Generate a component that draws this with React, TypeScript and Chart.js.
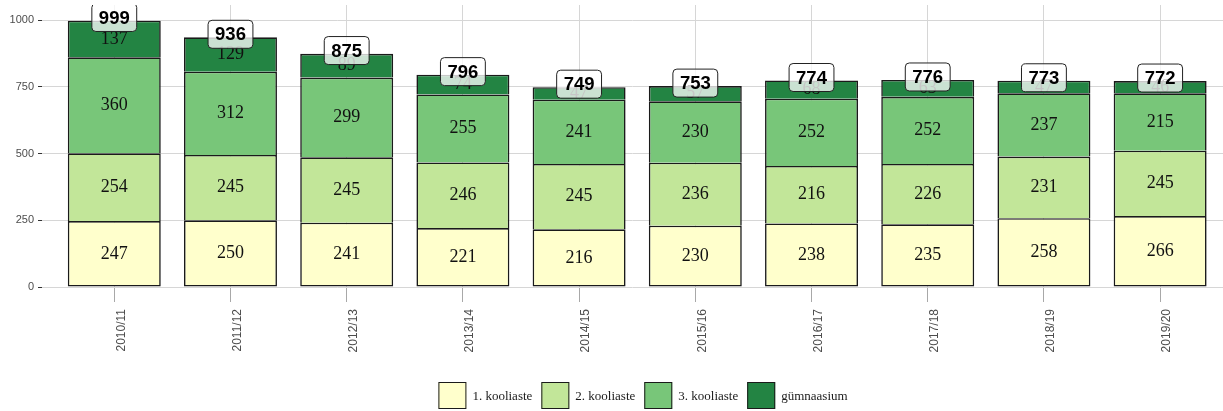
import React, { useEffect, useRef } from "react";
import { Chart, registerables } from "chart.js";

Chart.register(...registerables);

const categories = ["2010/11", "2011/12", "2012/13", "2013/14", "2014/15", "2015/16", "2016/17", "2017/18", "2018/19", "2019/20"];
const kooliaste1 = [247, 250, 241, 221, 216, 230, 238, 235, 258, 266];
const kooliaste2 = [254, 245, 245, 246, 245, 236, 216, 226, 231, 245];
const kooliaste3 = [360, 312, 299, 255, 241, 230, 252, 252, 237, 215];
const gymnaasium = [137, 129, 89, 74, 47, 57, 68, 63, 47, 46];
const totals = [999, 936, 875, 796, 749, 753, 774, 776, 773, 772];
const yTicks = [0, 250, 500, 750, 1000];
const seriesNames = ["1. kooliaste", "2. kooliaste", "3. kooliaste", "gümnaasium"];
const seriesColors = ["#ffffcc", "#c2e699", "#78c679", "#238443"];

const SERIF = "'Liberation Serif', 'DejaVu Serif', serif";
const SANS = "'Liberation Sans', Arial, sans-serif";

const labelsPlugin = {
  id: "segmentAndTotalLabels",
  afterDatasetsDraw(chart: any) {
    const ctx = chart.ctx;
    const area = chart.chartArea;
    ctx.save();
    ctx.fillStyle = "#111";
    ctx.font = `18px ${SERIF}`;
    ctx.textAlign = "center";
    ctx.textBaseline = "middle";
    chart.data.datasets.forEach((ds: any, di: number) => {
      const meta = chart.getDatasetMeta(di);
      meta.data.forEach((el: any, i: number) => {
        const y = (el.y + el.base) / 2;
        ctx.fillText(String(ds.data[i]), el.x, y);
      });
    });
    // totals
    ctx.beginPath();
    ctx.rect(area.left, area.top, area.right - area.left, area.bottom - area.top);
    ctx.clip();
    const yScale = chart.scales.y;
    const xScale = chart.scales.x;
    ctx.font = `bold 18.5px ${SANS}`;
    totals.forEach((t, i) => {
      const cx = xScale.getPixelForValue(i + 1);
      const cy = yScale.getPixelForValue(t) - 3;
      const w = ctx.measureText(String(t)).width + 14;
      const h = 28;
      ctx.beginPath();
      ctx.roundRect(cx - w / 2, cy - h / 2, w, h, 4);
      ctx.fillStyle = "rgba(255,255,255,0.76)";
      ctx.fill();
      ctx.lineWidth = 1;
      ctx.strokeStyle = "#222";
      ctx.stroke();
      ctx.fillStyle = "#000";
      ctx.fillText(String(t), cx, cy + 1);
    });
    ctx.restore();
  },
};

const legendPlugin = {
  id: "customLegend",
  afterDraw(chart: any) {
    const ctx = chart.ctx;
    ctx.save();
    ctx.font = `13px ${SERIF}`;
    ctx.textBaseline = "middle";
    ctx.textAlign = "left";
    const boxW = 28;
    const boxH = 27;
    const gap = 6;
    const spacing = 9;
    const items = chart.data.datasets.map((ds: any) => ({
      text: ds.label,
      color: ds.backgroundColor,
      w: boxW + gap + ctx.measureText(ds.label).width,
    }));
    const total = items.reduce((s: number, it: any) => s + it.w, 0) + spacing * (items.length - 1);
    const center = chart.scales.x.getPixelForValue(5.55);
    let x = center - total / 2;
    const top = 382;
    items.forEach((it: any) => {
      ctx.fillStyle = it.color;
      ctx.fillRect(x, top, boxW, boxH);
      ctx.lineWidth = 1;
      ctx.strokeStyle = "#1a1a1a";
      ctx.strokeRect(x + 0.5, top + 0.5, boxW - 1, boxH - 1);
      ctx.fillStyle = "#1a1a1a";
      ctx.fillText(it.text, x + boxW + gap, top + boxH / 2 + 1);
      x += it.w + spacing;
    });
    ctx.restore();
  },
};

export default function App() {
  const canvasRef = useRef<HTMLCanvasElement | null>(null);

  useEffect(() => {
    if (!canvasRef.current) return;
    const seriesValues = [kooliaste1, kooliaste2, kooliaste3, gymnaasium];
    const chart = new Chart(canvasRef.current, {
      type: "bar",
      data: {
        labels: categories.map((_, i) => i + 1),
        datasets: seriesValues.map((vals, si) => ({
          label: seriesNames[si],
          data: vals,
          backgroundColor: seriesColors[si],
          borderColor: "#1a1a1a",
          borderWidth: { top: 1.6, left: 1.6, right: 1.6, bottom: si === 0 ? 1.6 : 0 },
          borderSkipped: false,
          barPercentage: 0.8,
          categoryPercentage: 1,
        })),
      },
      options: {
        animation: false,
        responsive: true,
        maintainAspectRatio: false,
        layout: { padding: { top: 5, left: 0, right: 0, bottom: 44 } },
        plugins: {
          legend: { display: false },
          tooltip: { enabled: false },
        },
        scales: {
          x: {
            type: "linear",
            stacked: true,
            offset: false,
            min: 0.378,
            max: 10.541,
            afterBuildTicks: (scale: any) => {
              scale.ticks = categories.map((_, i) => ({ value: i + 1 }));
            },
            afterFit: (scale: any) => {
              scale.height = 80;
              scale.paddingLeft = 0;
              scale.paddingRight = 0;
            },
            border: { display: false },
            grid: { offset: false, color: "#d6d6d6", lineWidth: 1, tickColor: "#a8a8a8", tickLength: 15 },
            ticks: {
              autoSkip: false,
              maxRotation: 90,
              minRotation: 90,
              padding: 7,
              labelOffset: 7,
              color: "#4d4d4d",
              font: { family: SANS, size: 12 },
              callback: (v: any) => categories[Math.round(Number(v)) - 1] ?? "",
            },
          },
          y: {
            stacked: true,
            min: 0,
            max: 1057,
            afterBuildTicks: (scale: any) => {
              scale.ticks = yTicks.map((v) => ({ value: v }));
            },
            afterFit: (scale: any) => {
              scale.width = 42;
              scale.paddingTop = 0;
              scale.paddingBottom = 0;
            },
            border: { display: false },
            grid: { color: "#d6d6d6", lineWidth: 1, tickColor: "#333", tickLength: 4 },
            ticks: {
              padding: 4,
              color: "#4d4d4d",
              font: { family: SANS, size: 11 },
              callback: (v: any) => String(v),
            },
          },
        },
      },
      plugins: [labelsPlugin, legendPlugin],
    } as any);
    return () => chart.destroy();
  }, []);

  return (
    <div style={{ position: "fixed", left: 0, top: 0, width: 1223, height: 411, background: "#fff" }}>
      <canvas ref={canvasRef} />
    </div>
  );
}
